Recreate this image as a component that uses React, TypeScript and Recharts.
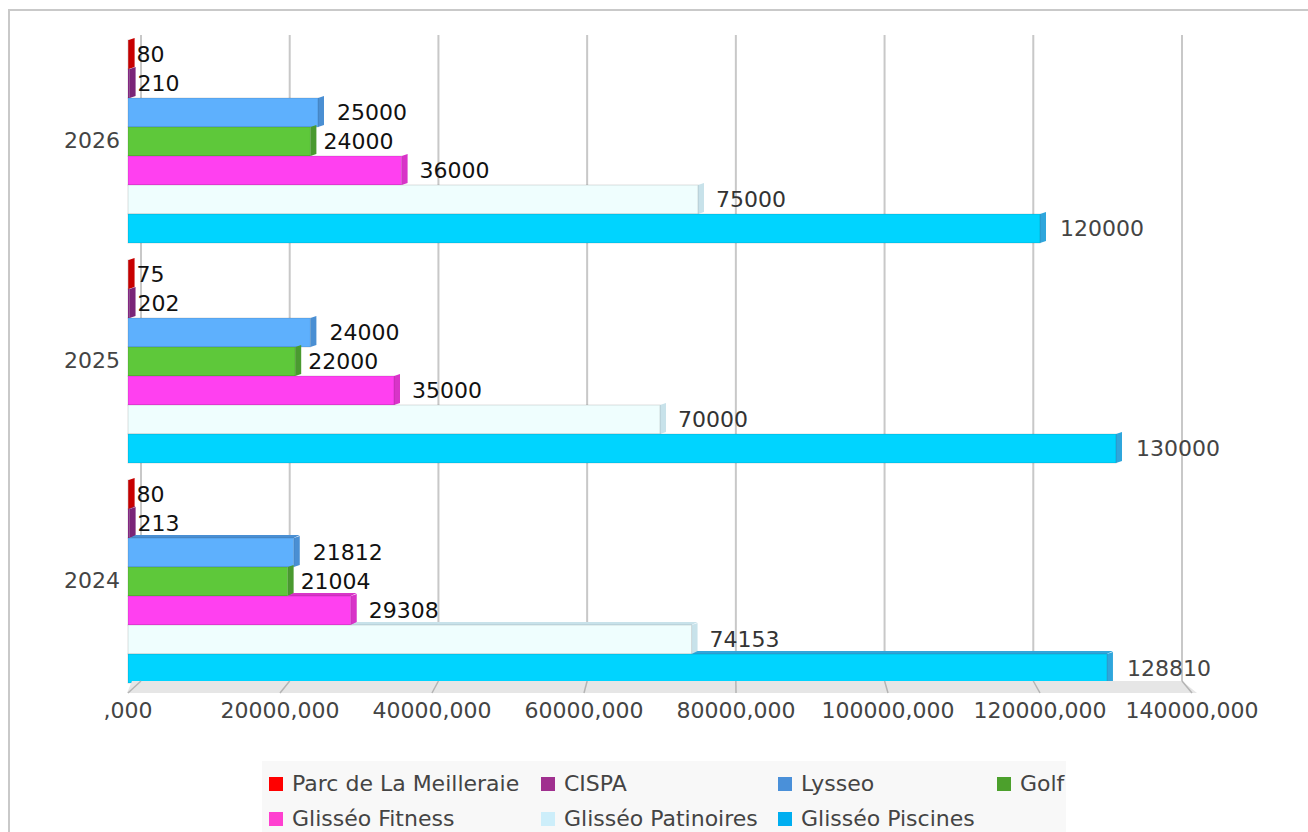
import { BarChart, Bar, XAxis, YAxis, CartesianGrid, LabelList } from 'recharts';

// data
const YEARS = ['2026', '2025', '2024'];
const PARC = [80, 75, 80];
const CISPA = [210, 202, 213];
const LYSSEO = [25000, 24000, 21812];
const GOLF = [24000, 22000, 21004];
const FITNESS = [36000, 35000, 29308];
const PATINOIRES = [75000, 70000, 74153];
const PISCINES = [120000, 130000, 128810];
const X_TICKS = [0, 20000, 40000, 60000, 80000, 100000, 120000, 140000];
const X_MAX = 140000;

const SERIES = [
  { key: 'parc', name: 'Parc de La Meilleraie', values: PARC, face: '#e00000', side: '#c80000', legend: '#ff0000', label: '#111', offset: 8 },
  { key: 'cispa', name: 'CISPA', values: CISPA, face: '#8c2a8a', side: '#7a2478', legend: '#a0308f', label: '#111', offset: 8 },
  { key: 'lysseo', name: 'Lysseo', values: LYSSEO, face: '#5eb0fd', side: '#4a8fd3', legend: '#4a90d9', label: '#111', offset: 19 },
  { key: 'golf', name: 'Golf', values: GOLF, face: '#5ec83a', side: '#4a9a30', legend: '#4ca02c', label: '#111', offset: 13 },
  { key: 'fitness', name: 'Glisséo Fitness', values: FITNESS, face: '#ff40f0', side: '#d834c8', legend: '#ff40d0', label: '#111', offset: 18 },
  { key: 'patinoires', name: 'Glisséo Patinoires', values: PATINOIRES, face: '#effefe', side: '#c8e2ea', legend: '#cdeefa', label: '#333', offset: 18 },
  { key: 'piscines', name: 'Glisséo Piscines', values: PISCINES, face: '#00d4ff', side: '#2fa6dc', legend: '#00aef0', label: '#444', offset: 20 },
];

const chartData = YEARS.map((year, i) => {
  const row: Record<string, string | number> = { year };
  SERIES.forEach((s) => { row[s.key] = s.values[i]; });
  return row;
});

// layout
const W = 1308;
const H = 745;
const PLOT_L = 128;
const PLOT_R = 1192;
const PLOT_TOP = 30;
const FLOOR_TOP = 681;
const FLOOR_BOT = 693;
const FONT = 22;
const front = (v: number) => PLOT_L + (v / X_MAX) * (PLOT_R - PLOT_L);
const back = (v: number) => 141 + (v / X_MAX) * (1182 - 141);

const fmtTick = (v: number) => (v === 0 ? ',000' : `${v},000`);

// front face + right side; the lowest group (below eye level) also shows a top face
function Bar3D(props: any) {
  const { x, y, width, height, fill, side, index, prev, value } = props;
  if (width == null || height == null) return null;
  const d = 6;
  const r = x + width;
  const v = Array.isArray(value) ? value[1] - value[0] : value;
  const showTop = index === YEARS.length - 1 && prev != null && prev < v;
  const t0 = showTop ? x + width * (prev / v) : 0;
  return (
    <g>
      {showTop && (
        <polygon points={`${t0},${y} ${r},${y} ${r + d},${y - 3} ${t0 + d},${y - 3}`} fill={side} />
      )}
      <polygon
        points={`${r},${y} ${r + d},${y - 2} ${r + d},${y + height - 2} ${r},${y + height}`}
        fill={side}
      />
      <rect x={x} y={y} width={Math.max(width, 0.5)} height={height} fill={fill} stroke="rgba(0,0,0,0.13)" strokeWidth={1} />
    </g>
  );
}

function Legend3() {
  return (
    <div
      style={{
        position: 'absolute', left: 262, top: 761, width: 804, height: 90,
        background: '#f8f8f8', display: 'grid',
        gridTemplateColumns: '272px 237px 219px 76px', gridAutoRows: '35px',
        padding: '5px 0 0 7px', boxSizing: 'border-box',
      }}
    >
      {SERIES.map((s) => (
        <div key={s.key} style={{ display: 'flex', alignItems: 'center', whiteSpace: 'nowrap' }}>
          <span style={{ width: 14, height: 14, background: s.legend, marginRight: 9, flexShrink: 0 }} />
          <span style={{ fontSize: FONT, color: '#444', lineHeight: '35px' }}>{s.name}</span>
        </div>
      ))}
    </div>
  );
}

export default function App() {
  return (
    <div
      style={{
        position: 'absolute', left: 0, top: 0, width: W, height: 832,
        overflow: 'hidden', background: '#fff', fontFamily: '"DejaVu Sans", sans-serif',
      }}
    >
      {/* outer frame */}
      <div
        style={{
          position: 'absolute', left: 8, top: 9, width: 1400, height: 1000,
          borderLeft: '2px solid #c9c9c9', borderTop: '2px solid #c9c9c9',
        }}
      />

      <div style={{ position: 'absolute', left: 0, top: 0 }}>
        <BarChart
          width={W}
          height={H}
          data={chartData}
          layout="vertical"
          margin={{ top: PLOT_TOP, right: W - PLOT_R, bottom: 10, left: 0 }}
          barCategoryGap={10}
          barGap={0}
        >
          <CartesianGrid
            horizontal={false}
            verticalPoints={X_TICKS.map(back)}
            y={35}
            height={FLOOR_TOP - 35}
            stroke="#c8c8c8"
            strokeWidth={2}
          />
          <XAxis
            type="number"
            domain={[0, X_MAX]}
            ticks={X_TICKS}
            tickFormatter={fmtTick}
            axisLine={false}
            tickLine={false}
            tickSize={0}
            tickMargin={12}
            height={45}
            tick={{ fontSize: FONT, fill: '#444' }}
          />
          <YAxis
            type="category"
            dataKey="year"
            width={PLOT_L}
            interval={0}
            axisLine={false}
            tickLine={false}
            tickSize={0}
            tickMargin={8}
            tick={{ fontSize: FONT, fill: '#444' }}
          />
          {SERIES.map((s, si) => (
            <Bar
              key={s.key}
              dataKey={s.key}
              name={s.name}
              fill={s.face}
              isAnimationActive={false}
              shape={(p: any) => (
                <Bar3D {...p} side={s.side} prev={si > 0 ? SERIES[si - 1].values[p.index] : undefined} />
              )}
            >
              <LabelList dataKey={s.key} position="right" offset={s.offset} fontSize={FONT} fill={s.label} />
            </Bar>
          ))}
        </BarChart>
      </div>

      {/* 3d floor under the bars */}
      <svg width={W} height={H} style={{ position: 'absolute', left: 0, top: 0, pointerEvents: 'none' }}>
        <polygon
          points={`${front(0) + 4},${FLOOR_TOP} ${back(X_MAX)},${FLOOR_TOP} ${front(X_MAX) + 5},${FLOOR_BOT} ${front(0) - 1},${FLOOR_BOT}`}
          fill="#e6e6e6"
        />
        {X_TICKS.map((t) => (
          <line key={t} x1={back(t)} y1={FLOOR_TOP} x2={front(t)} y2={FLOOR_BOT} stroke="#b4b4b4" strokeWidth={1.5} />
        ))}
      </svg>

      <Legend3 />
    </div>
  );
}
